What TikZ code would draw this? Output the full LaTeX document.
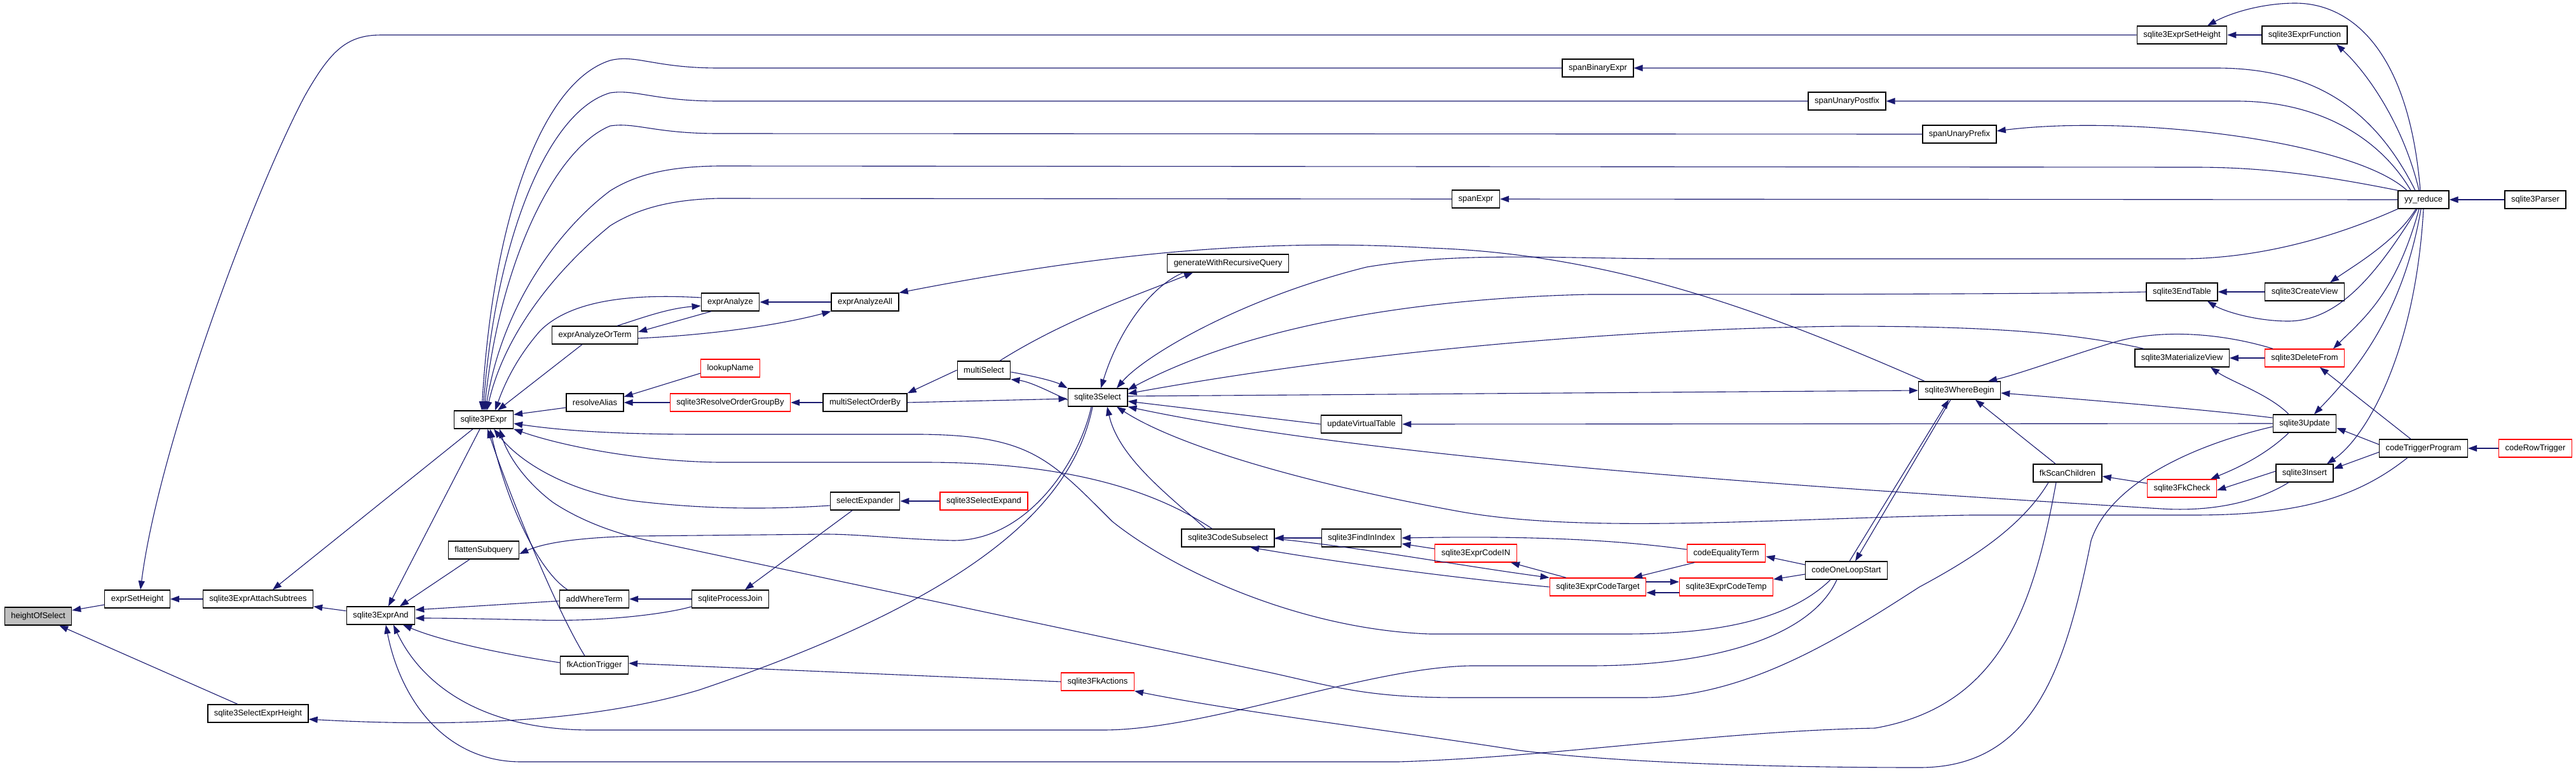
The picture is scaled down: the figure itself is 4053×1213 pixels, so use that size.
\documentclass[tikz,border=0pt]{standalone}
\usepackage{fontspec}
\setmainfont{Liberation Sans}
\usetikzlibrary{arrows.meta}
\definecolor{edgecol}{HTML}{191970}
\definecolor{hl}{HTML}{BFBFBF}
\begin{document}
\begin{tikzpicture}[x=1pt,y=-1pt,
  box/.style={draw=black, line width=1.3pt, rectangle, minimum height=28pt, inner xsep=10pt, inner ysep=0pt, font=\fontsize{13}{15}\selectfont, fill=white},
  rbox/.style={box, draw=red},
  e/.style={draw=edgecol, line width=1.1pt, -{Triangle[length=14pt,width=10pt]}}]
\fill[white] (0,0) rectangle (4053,1213);
\useasboundingbox (0,0) rectangle (4053,1213);
% nodes
\node[box, fill=hl] (hos) at (60,969) {heightOfSelect};
\node[box] (esh) at (216,942) {exprSetHeight};
\node[box] (sseh) at (406,1122) {sqlite3SelectExprHeight};
\node[box] (eas) at (406,942) {sqlite3ExprAttachSubtrees};
\node[box] (eand) at (599,968) {sqlite3ExprAnd};
\node[box] (pexpr) at (761,660) {sqlite3PExpr};
\node[box] (flat) at (761,865) {flattenSubquery};
\node[box] (eaot) at (936,527) {exprAnalyzeOrTerm};
\node[box] (ralias) at (936,633) {resolveAlias};
\node[box] (awt) at (935,942) {addWhereTerm};
\node[box] (fkat) at (935,1046) {fkActionTrigger};
\node[box] (ea) at (1149,475) {exprAnalyze};
\node[rbox] (lookup) at (1149,579) {lookupName};
\node[rbox] (rogb) at (1149,633) {sqlite3ResolveOrderGroupBy};
\node[box] (spj) at (1149,942) {sqliteProcessJoin};
\node[box] (eaa) at (1361,475) {exprAnalyzeAll};
\node[box] (msob) at (1361,633) {multiSelectOrderBy};
\node[box] (sexp) at (1361,788) {selectExpander};
\node[box] (ms) at (1548,582) {multiSelect};
\node[rbox] (ssexp) at (1548,788) {sqlite3SelectExpand};
\node[box] (sel) at (1727,625) {sqlite3Select};
\node[rbox] (fka) at (1727,1072) {sqlite3FkActions};
\node[box] (gwrq) at (1932,414) {generateWithRecursiveQuery};
\node[box] (csub) at (1932,846) {sqlite3CodeSubselect};
\node[box] (uvt) at (2142,667) {updateVirtualTable};
\node[box] (fii) at (2142,846) {sqlite3FindInIndex};
\node[box] (spe) at (2322,313) {spanExpr};
\node[rbox] (cin) at (2322,870) {sqlite3ExprCodeIN};
\node[box] (sbe) at (2514,107) {spanBinaryExpr};
\node[rbox] (ctgt) at (2514,923) {sqlite3ExprCodeTarget};
\node[rbox] (ceq) at (2716,870) {codeEqualityTerm};
\node[rbox] (ctmp) at (2716,923) {sqlite3ExprCodeTemp};
\node[box] (supost) at (2906,159) {spanUnaryPostfix};
\node[box] (cols) at (2905,897) {codeOneLoopStart};
\node[box] (supre) at (3083,211) {spanUnaryPrefix};
\node[box] (wb) at (3083,614) {sqlite3WhereBegin};
\node[box] (fksc) at (3253,744) {fkScanChildren};
\node[box] (esth) at (3433,55) {sqlite3ExprSetHeight};
\node[box] (et) at (3433,459) {sqlite3EndTable};
\node[box] (mv) at (3433,563) {sqlite3MaterializeView};
\node[rbox] (fkc) at (3433,768) {sqlite3FkCheck};
\node[box] (ef) at (3626,55) {sqlite3ExprFunction};
\node[box] (cv) at (3626,459) {sqlite3CreateView};
\node[rbox] (df) at (3626,563) {sqlite3DeleteFrom};
\node[box] (upd) at (3626,666) {sqlite3Update};
\node[box] (ins) at (3626,744) {sqlite3Insert};
\node[box] (yy) at (3813,314) {yy\_reduce};
\node[box] (ctp) at (3813,705) {codeTriggerProgram};
\node[box] (parser) at (3989,314) {sqlite3Parser};
\node[rbox] (crt) at (3989,705) {codeRowTrigger};
% edges
\draw[e] (esh) -- (hos);
\draw[e] ([xshift=-32pt]sseh.north) -- (hos);
\draw[e] (eas) -- (esh);
\draw[e] (esth.west) -- (600,55) .. controls (545,55) and (520,80) .. (480,150) .. controls (400,300) and (250,700) .. ([xshift=5pt]esh.north);
\draw[e] (eand) -- (eas);
\draw[e] ([xshift=-17pt]pexpr.south) -- ([xshift=23pt]eas.north);
\draw[e] ([xshift=-8pt]sel.south) .. controls (1690,780) and (1560,930) .. (1100,1085) .. controls (900,1145) and (650,1140) .. ([yshift=-9pt]sseh.east);
\draw[e] (ef) -- (esth);
\draw[e] ([xshift=-5pt]yy.north) .. controls (3790,80) and (3700,5) .. (3611,5) .. controls (3560,5) and (3510,20) .. ([xshift=40pt]esth.north);
\draw[e] ([xshift=-7pt]yy.north) .. controls (3780,190) and (3720,110) .. ([xshift=50pt]ef.south);
\draw[e] ([xshift=-13pt]yy.north) .. controls (3740,180) and (3650,107) .. (3487,107) -- (sbe.east);
\draw[e] ([xshift=-20pt]yy.north) .. controls (3740,210) and (3640,159) .. (3519,159) -- (supost.east);
\draw[e] ([xshift=-26pt]yy.north) .. controls (3700,220) and (3350,180) .. ([yshift=5pt]supre.east);
\draw[e] (yy.north west) .. controls (3650,275) and (3560,263) .. (3454,263) -- (1130,261) .. controls (1050,262) and (1000,275) .. (960,300) .. controls (880,360) and (790,480) .. ([xshift=3pt]pexpr.north);
\draw[e] (yy.west) -- (spe.east);
\draw[e] (sbe.west) -- (1130,107) .. controls (1030,107) and (1000,85) .. (960,95) .. controls (850,130) and (775,350) .. ([xshift=-3pt]pexpr.north);
\draw[e] (supost.west) -- (1130,159) .. controls (1030,159) and (1000,140) .. (960,146) .. controls (860,175) and (780,380) .. ([xshift=-1pt]pexpr.north);
\draw[e] (supre.west) -- (1130,210) .. controls (1030,210) and (1000,192) .. (960,198) .. controls (870,235) and (785,420) .. ([xshift=1pt]pexpr.north);
\draw[e] (spe.west) -- (1130,312) .. controls (1050,314) and (1000,330) .. (960,355) .. controls (880,420) and (795,520) .. ([xshift=5pt]pexpr.north);
\draw[e] (yy.south west) .. controls (3680,370) and (3560,407) .. (3430,407) -- (2650,407) .. controls (2450,407) and (2300,395) .. (2150,420) .. controls (1950,470) and (1800,560) .. ([xshift=30pt]sel.north);
\draw[e] ([xshift=-55pt]wb.north) .. controls (2800,500) and (2550,400) .. (2250,390) .. controls (2000,375) and (1750,395) .. (eaa.north east);
\draw[e] (et.west) .. controls (3200,463) and (2700,463) .. (2500,463) .. controls (2200,470) and (1950,520) .. ([yshift=12pt]sel.east);
\draw[e] ([xshift=-60pt]mv.north) .. controls (3250,520) and (3100,513) .. (2900,513) .. controls (2500,518) and (2100,560) .. ([yshift=6pt]sel.east);
\draw[e] ([yshift=2pt]sel.east) -- (wb.west);
\draw[e] (uvt.west) -- ([yshift=-6pt]sel.east);
\draw[e] ([xshift=-25pt]ins.south) .. controls (3550,790) and (3480,805) .. (3400,800) .. controls (3000,775) and (2200,730) .. (sel.south east);
\draw[e] ([xshift=-25pt]ctp.south) .. controls (3700,790) and (3600,810) .. (3450,810) -- (3100,810) .. controls (2800,815) and (2500,840) .. (2300,805) .. controls (2050,760) and (1850,700) .. ([xshift=30pt]sel.south);
\draw[e] ([xshift=-35pt]csub.north) .. controls (1840,780) and (1760,720) .. ([xshift=15pt]sel.south);
\draw[e] ([xshift=-25pt]csub.north) .. controls (1800,760) and (1650,727) .. (1455,727) -- (1130,727) .. controls (1000,725) and (880,700) .. (pexpr.south east);
\draw[e] ([xshift=-25pt]cols.south) .. controls (2800,990) and (2650,997) .. (2553,997) -- (2250,997) .. controls (2050,990) and (1850,900) .. (1750,820) .. controls (1650,720) and (1620,685) .. (1450,683) -- (1100,683) .. controls (950,683) and (870,675) .. ([yshift=-6pt]pexpr.east);
\draw[e] ([xshift=-10pt]sel.south) .. controls (1700,720) and (1620,850) .. (1500,850) .. controls (1420,848) and (1350,840) .. (1300,840) -- (1000,843) .. controls (920,845) and (860,852) .. ([yshift=-6pt]flat.east);
\draw[e] ([yshift=-3pt]ms.east) .. controls (1630,592) and (1660,600) .. (sel.north west);
\draw[e] ([yshift=-4pt]sel.west) .. controls (1650,615) and (1620,600) .. (ms.south east);
\draw[e] (ms.west) -- (msob.north east);
\draw[e] (msob.east) -- ([yshift=-2pt]sel.west);
\draw[e] (msob) -- (rogb);
\draw[e] (rogb) -- (ralias);
\draw[e] ([yshift=-8pt]lookup.west) -- ([yshift=9pt]ralias.east);
\draw[e] ([yshift=-8pt]ralias.west) -- ([yshift=8pt]pexpr.east);
\draw[e] ([xshift=25pt]ms.north) .. controls (1680,500) and (1800,460) .. ([xshift=-55pt]gwrq.south);
\draw[e] ([xshift=-70pt]gwrq.south) .. controls (1810,450) and (1760,520) .. ([xshift=5pt]sel.north);
\draw[e] ([xshift=35pt]eaot.north) .. controls (1010,500) and (1050,485) .. ([yshift=-6pt]ea.west);
\draw[e] ([xshift=-30pt]ea.south) -- ([yshift=5pt]eaot.east);
\draw[e] ([yshift=-5pt]eaot.east) .. controls (1150,525) and (1250,505) .. (eaa.south west);
\draw[e] (eaa) -- (ea);
\draw[e] ([yshift=7pt]ea.west) .. controls (1000,462) and (900,470) .. (850,520) .. controls (815,560) and (795,600) .. ([xshift=18pt]pexpr.north);
\draw[e] ([xshift=-20pt]eaot.south) -- ([xshift=22pt]pexpr.north);
\draw[e] ([yshift=-7pt]sexp.west) .. controls (1200,802) and (1100,800) .. (1000,788) .. controls (900,775) and (820,730) .. ([xshift=16pt]pexpr.south);
\draw[e] (ssexp) -- (sexp);
\draw[e] ([xshift=-20pt]sexp.south) -- ([xshift=23pt]spj.north);
\draw[e] (spj) -- (awt);
\draw[e] ([yshift=-12pt]spj.west) .. controls (1050,965) and (950,978) .. (846,975) .. controls (750,973) and (700,972) .. ([yshift=-4pt]eand.east);
\draw[e] ([yshift=-3pt]awt.west) -- ([yshift=9pt]eand.east);
\draw[e] ([xshift=-42pt]awt.north) .. controls (850,900) and (800,800) .. ([xshift=10pt]pexpr.south);
\draw[e] ([xshift=-15pt]fkat.north) .. controls (870,950) and (795,760) .. ([xshift=6pt]pexpr.south);
\draw[e] ([yshift=4pt]fkat.west) .. controls (800,1030) and (700,1010) .. ([xshift=35pt]eand.south);
\draw[e] (fka.west) -- ([yshift=3pt]fkat.east);
\draw[e] ([xshift=-22pt]flat.south) -- ([xshift=30pt]eand.north);
\draw[e] ([xshift=-6pt]pexpr.south) -- ([xshift=12pt]eand.north);
\draw[e] ([xshift=-15pt]cols.south) .. controls (2850,1000) and (2700,1047) .. (2500,1047) -- (2313,1047) .. controls (2150,1050) and (1900,1148) .. (1735,1148) -- (930,1148) .. controls (750,1148) and (660,1070) .. ([xshift=20pt]eand.south);
\draw[e] ([xshift=-18pt]fksc.south) .. controls (3200,950) and (3150,1110) .. (2950,1145) .. controls (2700,1150) and (2450,1190) .. (2200,1198) -- (820,1198) .. controls (700,1198) and (630,1100) .. ([xshift=8pt]eand.south);
\draw[e] ([xshift=-30pt]fksc.south) .. controls (3180,830) and (3100,880) .. (3020,923) .. controls (2900,1000) and (2750,1097) .. (2585,1097) -- (2293,1097) .. controls (2150,1097) and (2100,1080) .. (2000,1058) -- (1020,850) .. controls (950,835) and (900,810) .. (870,790) .. controls (830,760) and (800,720) .. ([xshift=25pt]pexpr.south);
\draw[e] ([yshift=-5pt]upd.west) .. controls (3450,700) and (3320,760) .. (3290,850) .. controls (3250,1050) and (3200,1207) .. (3020,1207) .. controls (2800,1207) and (2550,1200) .. (2390,1180) .. controls (2200,1150) and (1950,1120) .. (fka.south east);
\draw[e] (upd.west) -- (uvt.east);
\draw[e] ([yshift=9pt]upd.west) .. controls (3480,645) and (3300,630) .. ([yshift=-4pt]wb.east);
\draw[e] ([xshift=-25pt]upd.north) .. controls (3570,620) and (3510,600) .. ([xshift=45pt]mv.south);
\draw[e] ([xshift=-25pt]upd.south) .. controls (3560,720) and (3510,740) .. ([xshift=45pt]fkc.north);
\draw[e] ([yshift=3pt]ins.west) -- ([yshift=-3pt]fkc.east);
\draw[e] ([yshift=8pt]fkc.west) -- ([yshift=-5pt]fksc.east);
\draw[e] ([xshift=-19pt]fksc.north) -- ([xshift=25pt]wb.south);
\draw[e] ([xshift=-50pt]df.north) .. controls (3500,525) and (3400,515) .. (3320,540) .. controls (3240,565) and (3170,590) .. ([xshift=45pt]wb.north);
\draw[e] (df) -- (mv);
\draw[e] ([xshift=5pt]cols.north) -- ([xshift=-17pt]wb.south);
\draw[e] ([xshift=-14pt]wb.south) -- ([xshift=14pt]cols.north);
\draw[e] ([yshift=9pt]cols.west) -- ([yshift=-5pt]ceq.east);
\draw[e] ([yshift=-6pt]cols.west) -- ([yshift=12pt]ctmp.east);
\draw[e] ([yshift=6pt]ceq.west) .. controls (2550,850) and (2420,842) .. (fii.east);
\draw[e] ([xshift=-50pt]ceq.south) -- ([xshift=56pt]ctgt.north);
\draw[e] ([yshift=7pt]cin.west) -- ([yshift=-9pt]fii.east);
\draw[e] ([xshift=-50pt]ctgt.north) -- ([xshift=55pt]cin.south);
\draw[e] ([yshift=-1pt]csub.east) .. controls (2150,862) and (2300,890) .. (ctgt.north west);
\draw[e] (ctgt.west) .. controls (2250,905) and (2080,880) .. ([xshift=35pt]csub.south);
\draw[e] ([yshift=8pt]ctgt.east) -- ([yshift=8pt]ctmp.west);
\draw[e] ([yshift=-9pt]ctmp.west) -- ([yshift=-9pt]ctgt.east);
\draw[e] (fii) -- (csub);
\draw[e] ([yshift=6pt]ctp.west) -- ([yshift=-7pt]upd.east);
\draw[e] ([yshift=-6pt]ctp.west) -- ([yshift=7pt]ins.east);
\draw[e] ([xshift=-20pt]ctp.north) -- ([xshift=24pt]df.south);
\draw[e] (crt) -- (ctp);
\draw[e] ([xshift=-12pt]yy.south) .. controls (3770,380) and (3700,420) .. ([xshift=40pt]cv.north);
\draw[e] ([xshift=-10pt]yy.south) .. controls (3740,430) and (3680,505) .. (3600,505) .. controls (3550,505) and (3500,490) .. ([xshift=40pt]et.south);
\draw[e] ([xshift=-7pt]yy.south) .. controls (3770,460) and (3720,500) .. ([xshift=45pt]df.north);
\draw[e] ([xshift=-4pt]yy.south) .. controls (3780,500) and (3700,590) .. ([xshift=15pt]upd.north);
\draw[e] (yy.south) .. controls (3800,560) and (3720,690) .. ([xshift=35pt]ins.north);
\draw[e] (cv) -- (et);
\draw[e] (parser) -- (yy);
\end{tikzpicture}
\end{document}
